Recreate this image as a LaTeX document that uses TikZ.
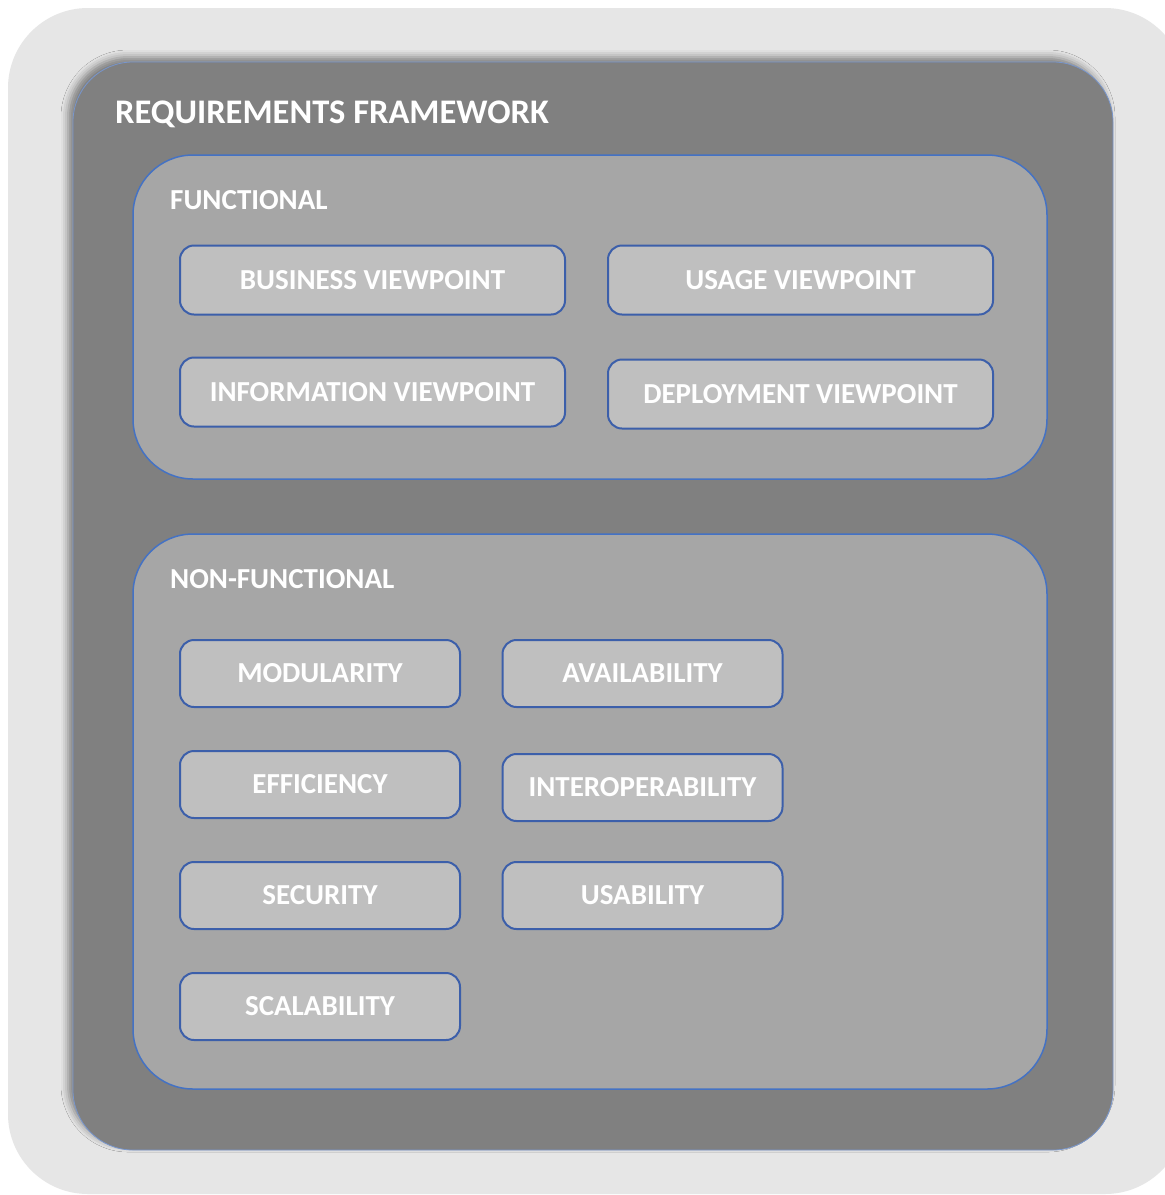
\documentclass[tikz,border=0pt]{standalone}
\usepackage{fontspec}
\setmainfont{Carlito}
\usetikzlibrary{shadows.blur}
\definecolor{framegray}{RGB}{230,230,230}
\definecolor{darkgray}{RGB}{128,128,128}
\definecolor{groupgray}{RGB}{166,166,166}
\definecolor{itemgray}{RGB}{191,191,191}
\definecolor{groupblue}{RGB}{68,114,196}
\definecolor{itemblue}{RGB}{60,95,170}
\definecolor{lineblue}{RGB}{120,150,205}
\begin{document}
\begin{tikzpicture}[x=1pt, y=-1pt,
    group/.style={draw=groupblue, line width=1.5pt, fill=groupgray, rounded corners=60pt},
    item/.style={draw=itemblue, line width=2pt, fill=itemgray, rounded corners=14pt,
        text=white, font=\fontsize{29}{34}\selectfont\bfseries, inner sep=0pt},
    wide/.style={item, minimum width=385, minimum height=69},
    short/.style={item, minimum width=280, minimum height=67},
    heading/.style={text=white, anchor=base west, inner sep=0pt}]
    % Page and outer frame
    \fill[white] (0,0) rectangle (1165,1195);
    \useasboundingbox (0,0) rectangle (1165,1195);
    \fill[framegray, rounded corners=80pt] (8,8) rectangle (1185,1194);
    % Requirements framework
    \filldraw[draw=lineblue, line width=0.8pt, fill=darkgray, rounded corners=60pt,
        blur shadow={shadow xshift=-5pt, shadow yshift=5pt, shadow blur radius=7pt, shadow opacity=45}]
        (73,62) rectangle (1113,1150);
    \node[heading, font=\fontsize{34.5}{40}\selectfont\bfseries] (title) at (115,123) {REQUIREMENTS FRAMEWORK};
    % Functional group
    \draw[group] (133,155) rectangle (1047,479);
    \node[heading, font=\fontsize{29}{34}\selectfont\bfseries] (functional) at (170,209) {FUNCTIONAL};
    \node[wide] (business) at (372.5,280) {BUSINESS VIEWPOINT};
    \node[wide] (usage) at (800.5,280) {USAGE VIEWPOINT};
    \node[wide] (information) at (372.5,392) {INFORMATION VIEWPOINT};
    \node[wide] (deployment) at (800.5,394) {DEPLOYMENT VIEWPOINT};
    % Non-functional group
    \draw[group] (133,534) rectangle (1047,1089);
    \node[heading, font=\fontsize{29}{34}\selectfont\bfseries] (nonfunctional) at (170,588) {NON-FUNCTIONAL};
    \node[short] (modularity) at (320,673.5) {MODULARITY};
    \node[short] (availability) at (642.5,673.5) {AVAILABILITY};
    \node[short] (efficiency) at (320,784.5) {EFFICIENCY};
    \node[short] (interoperability) at (642.5,787.5) {INTEROPERABILITY};
    \node[short] (security) at (320,895.5) {SECURITY};
    \node[short] (usability) at (642.5,895.5) {USABILITY};
    \node[short] (scalability) at (320,1006.5) {SCALABILITY};
\end{tikzpicture}
\end{document}
